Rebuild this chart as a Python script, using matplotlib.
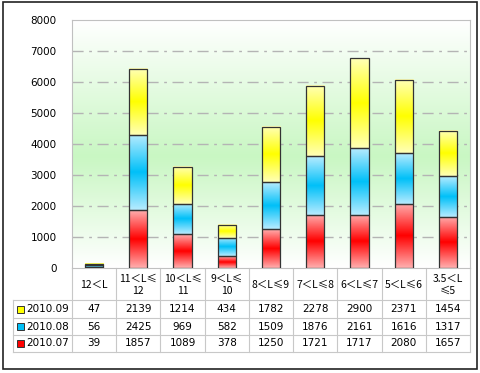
import numpy as np
import matplotlib
matplotlib.use("Agg")
import matplotlib.pyplot as plt
from matplotlib.colors import LinearSegmentedColormap
from matplotlib.patches import Rectangle
from matplotlib.lines import Line2D
from matplotlib.transforms import blended_transform_factory

plt.rcParams['font.family'] = ['Noto Sans CJK SC', 'DejaVu Sans']

categories = ["12＜L", "11＜L≤\n12", "10＜L≤\n11", "9＜L≤\n10", "8＜L≤9",
              "7＜L≤8", "6＜L≤7", "5＜L≤6", "3.5＜L\n≤5"]
jul = [39, 1857, 1089, 378, 1250, 1721, 1717, 2080, 1657]
aug = [56, 2425, 969, 582, 1509, 1876, 2161, 1616, 1317]
sep = [47, 2139, 1214, 434, 1782, 2278, 2900, 2371, 1454]
series_names = ["2010.07", "2010.08", "2010.09"]
yticks = [0, 1000, 2000, 3000, 4000, 5000, 6000, 7000, 8000]

W, H = 480, 373
fig = plt.figure(figsize=(4.8, 3.73), dpi=100)
ax = fig.add_axes([72 / W, 1 - 268 / H, 398 / W, 248 / H])

n = len(categories)
x = np.arange(n)
bw = 0.41

# background gradient
bg = LinearSegmentedColormap.from_list("bg", [(0, "#ffffff"), (0.55, "#c9f7c3"), (1, "#ffffff")])
grad = np.linspace(0, 1, 256).reshape(-1, 1)
ax.imshow(grad, cmap=bg, extent=[-0.5, n - 0.5, 0, 8000], aspect="auto", zorder=0, origin="upper")

for yv in yticks[1:-1]:
    ax.axhline(yv, color="#b4b4b4", lw=1, ls=(0, (8, 4, 2, 4)), zorder=1)

cmaps = [
    LinearSegmentedColormap.from_list("r", ["#ffb0b0", "#ff0000", "#ffb0b0"]),
    LinearSegmentedColormap.from_list("b", ["#b8ecff", "#00c0f8", "#b8ecff"]),
    LinearSegmentedColormap.from_list("y", ["#ffffb8", "#ffff00", "#ffffb8"]),
]
bottom = np.zeros(n)
for vals, cm in zip([jul, aug, sep], cmaps):
    vals = np.array(vals, dtype=float)
    for i in range(n):
        ax.imshow(grad, cmap=cm, extent=[x[i] - bw / 2, x[i] + bw / 2, bottom[i], bottom[i] + vals[i]],
                  aspect="auto", zorder=2)
    ax.bar(x, vals, bw, bottom=bottom, facecolor="none", edgecolor="#333333", lw=0.9, zorder=3)
    bottom += vals

ax.set_xlim(-0.5, n - 0.5)
ax.set_ylim(0, 8000)
ax.set_yticks(yticks)
ax.set_yticklabels([str(v) for v in yticks], fontsize=7.5, family="DejaVu Sans")
ax.tick_params(axis="y", length=0, pad=11)
ax.set_xticks([])
for s in ax.spines.values():
    s.set_color("#c0c0c0")

# data table below the axes
tr = blended_transform_factory(ax.transData, fig.transFigure)
gc = "#c8c8c8"
def fy(py):
    return 1 - py / H

rows_y = [300, 318, 335, 352]
# header verticals
for i in range(n + 1):
    ax.add_line(Line2D([i - 0.5, i - 0.5], [fy(268), fy(352)], transform=tr, color=gc, lw=0.8, clip_on=False))
for i, c in enumerate(categories):
    ax.text(x[i], fy(285), c, transform=tr, ha="center", va="center", fontsize=7.5,
            linespacing=1.3, clip_on=False)
for yy in rows_y:
    fig.add_artist(Line2D([13 / W, 470 / W], [fy(yy), fy(yy)], color=gc, lw=0.8))
fig.add_artist(Line2D([13 / W, 13 / W], [fy(300), fy(352)], color=gc, lw=0.8))

table_rows = [(sep, series_names[2], "#ffff00"), (aug, series_names[1], "#00c0f8"), (jul, series_names[0], "#ff0000")]
for r, (vals, name, col) in enumerate(table_rows):
    yc = (rows_y[r] + rows_y[r + 1]) / 2
    fig.add_artist(Rectangle((17 / W, fy(yc + 3.5)), 7 / W, 7 / H, facecolor=col, edgecolor="#333333", lw=0.7))
    fig.text(26 / W, fy(yc), name, ha="left", va="center", fontsize=7.5, family="DejaVu Sans")
    for i, v in enumerate(vals):
        ax.text(x[i], fy(yc), str(v), transform=tr, ha="center", va="center", fontsize=7.5,
                family="DejaVu Sans", clip_on=False)

# outer frame
fig.add_artist(Rectangle((3 / W, fy(369)), 474 / W, 367 / H, facecolor="none", edgecolor="#222222", lw=1.2))

fig.savefig("out.png", dpi=100)
